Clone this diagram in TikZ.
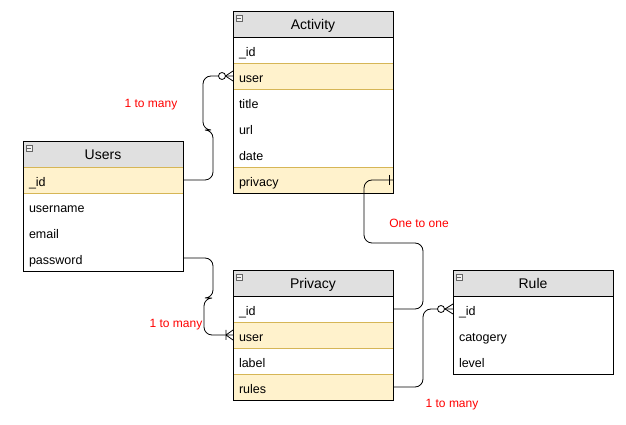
\documentclass[tikz,border=0pt]{standalone}
\usepackage{fontspec}
\setmainfont{Liberation Sans}
\usetikzlibrary{positioning}

\definecolor{headgray}{HTML}{E0E0E0}
\definecolor{keyfill}{HTML}{FFF2CC}
\definecolor{keygold}{HTML}{D6B656}

\tikzset{
	tbl/.style={minimum width=160pt,minimum height=26pt,outer sep=0pt,line width=0.8pt},
	head/.style={tbl,draw=black,fill=headgray,inner sep=0pt,text height=12pt,text depth=1pt,font=\fontsize{14}{16}\selectfont},
	fld/.style={tbl,text width=148pt,align=left,inner xsep=6pt,inner ysep=0pt,text height=14pt,text depth=1pt,font=\fontsize{12.5}{14}\selectfont},
	key/.style={fld,draw=keygold,fill=keyfill},
	frame/.style={draw=black,line width=0.8pt},
	icon/.style={draw=black!60,fill=black!5,minimum size=6pt,inner sep=0pt,line width=0.5pt,
		path picture={\draw[line width=0.7pt] ([xshift=1.2pt]path picture bounding box.west) -- ([xshift=-1.2pt]path picture bounding box.east);}},
	link/.style={line width=0.8pt,rounded corners=8pt},
	endmark/.style={line width=0.8pt},
	note/.style={text=red,font=\fontsize{12}{14}\selectfont}
}

\begin{document}
\begin{tikzpicture}[x=1pt,y=1pt]
	\useasboundingbox (0,0) rectangle (626,425);

	% Activity
	\node [head,anchor=north west] at (233,414) (act_head) {Activity};
	\node [fld,below=0pt of act_head] (act_id) {\_id};
	\node [key,below=0pt of act_id] (act_user) {user};
	\node [fld,below=0pt of act_user] (act_title) {title};
	\node [fld,below=0pt of act_title] (act_url) {url};
	\node [fld,below=0pt of act_url] (act_date) {date};
	\node [key,below=0pt of act_date] (act_priv) {privacy};
	\draw [frame] (act_head.north west) rectangle (act_priv.south east);
	\node [icon] at ([shift={(6,-7)}]act_head.north west) (act_icon) {};

	% Users
	\node [head,anchor=north west] at (23,284) (usr_head) {Users};
	\node [key,below=0pt of usr_head] (usr_id) {\_id};
	\node [fld,below=0pt of usr_id] (usr_name) {username};
	\node [fld,below=0pt of usr_name] (usr_mail) {email};
	\node [fld,below=0pt of usr_mail] (usr_pw) {password};
	\draw [frame] (usr_head.north west) rectangle (usr_pw.south east);
	\node [icon] at ([shift={(6,-7)}]usr_head.north west) (usr_icon) {};

	% Privacy
	\node [head,anchor=north west] at (233,155) (prv_head) {Privacy};
	\node [fld,below=0pt of prv_head] (prv_id) {\_id};
	\node [key,below=0pt of prv_id] (prv_user) {user};
	\node [fld,below=0pt of prv_user] (prv_label) {label};
	\node [key,below=0pt of prv_label] (prv_rules) {rules};
	\draw [frame] (prv_head.north west) rectangle (prv_rules.south east);
	\node [icon] at ([shift={(6,-7)}]prv_head.north west) (prv_icon) {};

	% Rule
	\node [head,anchor=north west] at (453,155) (rule_head) {Rule};
	\node [fld,below=0pt of rule_head] (rule_id) {\_id};
	\node [fld,below=0pt of rule_id] (rule_cat) {catogery};
	\node [fld,below=0pt of rule_cat] (rule_level) {level};
	\draw [frame] (rule_head.north west) rectangle (rule_level.south east);
	\node [icon] at ([shift={(6,-7)}]rule_head.north west) (rule_icon) {};

	% Users._id -> Activity.user (zero or many)
	\draw [link] (usr_id.east) -- ++(30,0) -- ++(0,50) -- ++(-10,0) |- (act_user.west);
	\draw [endmark,fill=white] ([xshift=-11]act_user.west) circle (3.5);
	\draw [endmark] ([xshift=-7.5]act_user.west) -- ([yshift=5]act_user.west)
		([xshift=-7.5]act_user.west) -- ([yshift=-5]act_user.west);

	% Users.password -> Privacy.user (one or many)
	\draw [link] (usr_pw.east) -- ++(30,0) -- ++(0,-40) -- ++(-9,0) |- (prv_user.west);
	\draw [endmark] ([xshift=-7]prv_user.west) -- ([yshift=5]prv_user.west)
		([xshift=-7]prv_user.west) -- ([yshift=-5]prv_user.west)
		([xshift=-7,yshift=5]prv_user.west) -- ([xshift=-7,yshift=-5]prv_user.west);

	% Activity.privacy -> Privacy._id (one to one)
	\draw [link] (act_priv.east) -- ++(-29,0) -- ++(0,-63) -| ([xshift=30]prv_id.east) -- (prv_id.east);
	\draw [endmark] ([xshift=-4,yshift=5]act_priv.east) -- ([xshift=-4,yshift=-5]act_priv.east);

	% Privacy.rules -> Rule._id (zero or many)
	\draw [link] (prv_rules.east) -| ([xshift=-30]rule_id.west) -- (rule_id.west);
	\draw [endmark,fill=white] ([xshift=-12]rule_id.west) circle (3.5);
	\draw [endmark] ([xshift=-8]rule_id.west) -- ([yshift=5]rule_id.west)
		([xshift=-8]rule_id.west) -- ([yshift=-5]rule_id.west);

	% cardinality notes
	\node [note] at (151,320) (note_act) {1 to many};
	\node [note] at (419,202) (note_prv) {One to one};
	\node [note] at (176,100) (note_usr) {1 to many};
	\node [note] at (452,20) (note_rule) {1 to many};
\end{tikzpicture}
\end{document}
